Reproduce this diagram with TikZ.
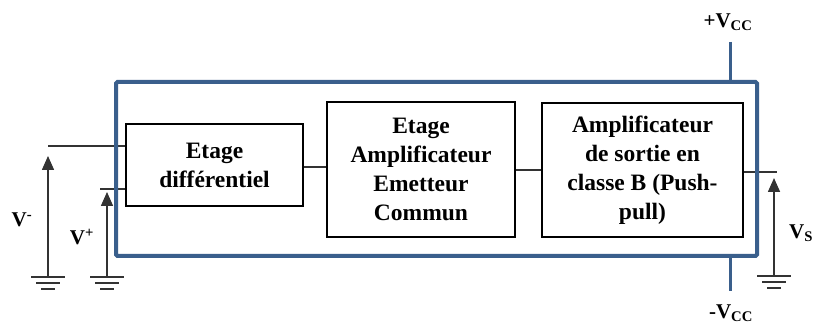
\documentclass[tikz,border=0pt]{standalone}
\usepackage{fontspec}
\setmainfont{Liberation Serif}
\usetikzlibrary{arrows.meta}
\definecolor{chipblue}{RGB}{58,95,140}
\definecolor{wire}{RGB}{51,51,51}
\begin{document}
\begin{tikzpicture}[x=1pt,y=-1pt,
  stagebox/.style={draw=black, line width=2pt, align=center, inner sep=0pt,
    font=\fontsize{23.5}{29}\selectfont\bfseries},
  wireline/.style={draw=wire, line width=1.6pt},
  arrowline/.style={draw=wire, line width=1.6pt, -{Triangle[length=14pt,width=12pt]}},
  lbl/.style={inner sep=0pt, font=\fontsize{21}{24}\selectfont\bfseries},
  gnd/.style={draw=wire, line width=2.4pt}
]
\useasboundingbox (0,0) rectangle (814,328);
\fill[white] (0,0) rectangle (814,328);

% stage boxes
\node[stagebox, minimum width=177pt, minimum height=82pt] (b1) at (214.5,165) {Etage\\diff\'erentiel};
\node[stagebox, minimum width=188pt, minimum height=135pt] (b2) at (421,169.5) {Etage\\Amplificateur\\Emetteur\\Commun};
\node[stagebox, minimum width=201pt, minimum height=134pt] (b3) at (642.5,170) {Amplificateur\\de sortie en\\classe B (Push-\\pull)};

% input / output wires
\coordinate (inm) at (48,146);
\coordinate (inp) at (100,189);
\coordinate (out) at (777,172);
\draw[wireline] (inm) -- (inm -| b1.west);
\draw[wireline] (inp) -- (inp -| b1.west);
\draw[wireline] (b1.east |- 0,167) -- (b2.west |- 0,167);
\draw[wireline] (b2.east |- 0,170) -- (b3.west |- 0,170);
\draw[wireline] (b3.east |- out) -- (out);

% grounds
\coordinate (g1) at (48,277);
\coordinate (g2) at (107,277);
\coordinate (g3) at (774,276);
\foreach \g in {g1,g2,g3}{
  \draw[gnd] ([shift={(-17,0)}]\g) -- ([shift={(17,0)}]\g);
  \draw[gnd] ([shift={(-12,6)}]\g) -- ([shift={(12,6)}]\g);
  \draw[gnd] ([shift={(-7,12)}]\g) -- ([shift={(7,12)}]\g);
}
\coordinate (a1) at (48,156);
\coordinate (a2) at (107,192);
\coordinate (a3) at (774,178);
\draw[arrowline] (g1) -- (a1);
\draw[arrowline] (g2) -- (a2);
\draw[arrowline] (g3) -- (a3);

% chip outline and supplies
\node[draw=chipblue, line width=4pt, rounded corners=1.5pt, minimum width=641pt, minimum height=174pt, inner sep=0pt] (chip) at (436.5,169) {};
\coordinate (vcctop) at (730.5,42);
\coordinate (vccbot) at (730.5,291);
\draw[chipblue, line width=3pt] (vcctop) -- (vcctop |- chip.north);
\draw[chipblue, line width=3pt] (vccbot) -- (vccbot |- chip.south);

% labels
\node[lbl] (lvm) at (22,220) {V\textsuperscript{-}};
\node[lbl] (lvp) at (82,237) {V\textsuperscript{+}};
\node[lbl] (lvs) at (801,233) {V\textsubscript{S}};
\node[lbl] (lvcc) at (728,22) {+V\textsubscript{CC}};
\node[lbl] (lmvcc) at (731,313) {-V\textsubscript{CC}};
\end{tikzpicture}
\end{document}
